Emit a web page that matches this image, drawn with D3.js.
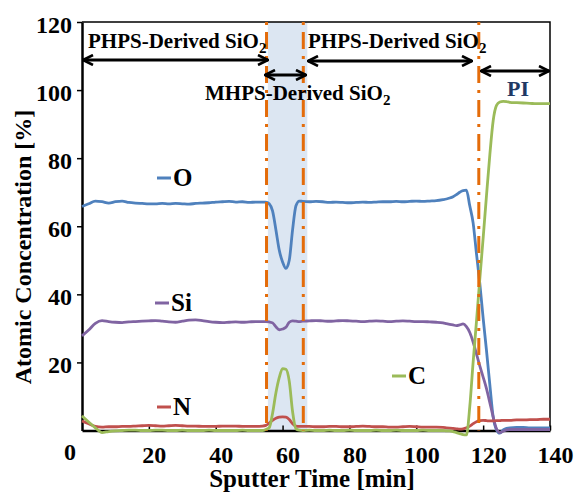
<!DOCTYPE html>
<html>
<head>
<meta charset="utf-8">
<script src="https://cdn.jsdelivr.net/npm/d3@7"></script>
</head>
<body style="margin:0;background:#fff">
<script>
// sputter time grid (min)
var time = [0,2,4,6,8,10,12,14,16,18,20,22,24,26,28,30,32,34,36,38,40,42,44,46,48,50,52,54,
  55,56,57,58,59,60,61,62,63,64,65,66,
  68,70,72,74,76,78,80,82,84,86,88,90,92,94,96,98,100,102,104,106,108,
  109,110,111,112,113,114,115,116,117,118,119,120,121,122,123,124,125,126,127,128,
  130,132,134,136,138,140];

var oxygen = [65.8,66.6,67.4,67.2,66.8,67.2,67.4,67.0,66.8,66.7,66.6,66.6,66.7,66.6,66.7,66.6,66.5,66.7,66.8,66.9,67.1,67.2,67.3,67.1,67.2,67.0,67.1,67.1,
  67.1,66.6,64.5,59,53,49.5,47.6,50,59,66,67.4,67.3,
  67.2,67.3,67.2,67.0,67.1,67.0,66.9,67.0,67.1,67.0,67.1,67.2,67.2,67.3,67.2,67.3,67.4,67.3,67.4,67.5,67.8,
  68.0,68.3,68.7,69.3,70.0,70.5,70.6,66,61,52,43.2,33,23.5,13.5,4,0.2,-0.8,0.2,0.6,0.8,
  0.9,0.9,0.8,0.8,0.8,0.8];

var silicon = [27.8,29.5,31.5,32.3,32.0,31.8,31.7,31.9,32.0,32.1,32.2,32.3,32.1,31.9,31.8,32.1,32.4,32.5,32.3,32.0,31.8,31.7,31.8,31.9,31.8,31.9,32.0,32.0,
  32.0,31.9,31.6,30.5,29.6,29.8,30.3,31.8,32.2,32.1,32.0,32.1,
  32.2,32.3,32.2,32.1,32.2,32.3,32.2,32.1,32.0,32.1,32.2,32.1,32.0,32.1,32.2,32.1,32.0,32.0,31.9,31.8,31.6,
  31.4,31.2,31.0,30.8,31.0,31.3,30.5,28.8,26,22.5,19,15.7,12.3,8.2,4,0.5,-0.6,-0.2,0.2,0.3,
  0.3,0.3,0.3,0.3,0.3,0.3];

var nitrogen = [2.8,2.0,1.2,1.0,1.1,1.1,1.2,1.2,1.3,1.4,1.5,1.4,1.3,1.4,1.5,1.4,1.3,1.3,1.2,1.2,1.2,1.3,1.3,1.3,1.2,1.2,1.2,1.3,
  1.5,2.2,3.0,3.6,3.9,4.0,3.9,3.2,2.0,1.3,1.2,1.2,
  1.2,1.1,1.1,1.2,1.2,1.1,1.1,1.2,1.3,1.2,1.1,1.1,1.0,1.0,1.1,1.2,1.1,1.0,1.0,1.0,0.9,
  0.8,0.7,0.6,0.5,0.4,0.5,0.8,1.3,2.0,2.6,2.9,3.0,2.9,2.8,2.8,2.9,2.9,3.0,3.0,3.0,
  3.1,3.1,3.2,3.2,3.3,3.3];

var carbon = [4.3,2.5,0.8,-0.6,-0.3,-0.1,0,0.1,0.1,0,0,0.1,0.1,0,0,0.1,0,0,0,0.1,0,0,0,0,0.1,0,0,0,
  0.3,0.8,5,11,15.5,18.2,18,14.5,5.5,0.5,0.1,0,
  0.1,0,0,0.1,0,0,0.1,0,0,0,0.1,0,0,0.1,0,0,0,0.1,0,0,0,
  -0.1,-0.1,-0.3,-0.6,-0.9,-1.2,-1.3,7,20,32,44.5,56.5,69,81,91,95.5,96.5,96.7,96.6,96.4,
  96.3,96.2,96.1,96.0,96.0,96.0];

var seriesNames = ["O", "Si", "N", "C"];
var seriesColors = ["#4F81BD", "#8064A2", "#C0504D", "#9BBB59"];
var xTicks = [20, 40, 60, 80, 100, 120, 140];
var yTicks = [20, 40, 60, 80, 100, 120];
var markerTimes = [55.2, 66.2, 118.7];
var mhpsBand = [55.6, 67.4];

var FONT = "'Liberation Serif'";
var W = 580, H = 493;
var svg = d3.select("body").append("svg")
    .attr("width", W)
    .attr("height", H);

var x = d3.scaleLinear().domain([0, 140]).range([82, 550]);
var y = d3.scaleLinear().domain([0, 120]).range([430.5, 22]);

function label(sel, size) {
  return sel.style("font-family", FONT).style("font-weight", "bold").style("font-size", size + "px");
}

// MHPS band
svg.append("rect")
    .attr("x", x(mhpsBand[0]))
    .attr("y", y(120))
    .attr("width", x(mhpsBand[1]) - x(mhpsBand[0]))
    .attr("height", y(0) - y(120))
    .attr("fill", "#DCE6F2");

// frame (top/right)
svg.append("path")
    .attr("d", "M" + x(0) + "," + y(120) + "H" + x(140) + "V" + y(0))
    .attr("fill", "none")
    .attr("stroke", "#000")
    .attr("stroke-width", 1.5);

// y axis
var yAxis = svg.append("g")
    .attr("transform", "translate(" + x(0) + ",0)")
    .call(d3.axisLeft(y).tickValues(yTicks).tickSize(5).tickPadding(5).tickSizeOuter(0));
yAxis.select(".domain").attr("stroke-width", 2.5);
yAxis.selectAll(".tick line").attr("stroke-width", 1.5);
label(yAxis.selectAll(".tick text"), 24).attr("dy", "0.42em");

// x axis
var xAxis = svg.append("g")
    .attr("transform", "translate(0," + y(0) + ")")
    .call(d3.axisBottom(x).tickValues(xTicks).tickSize(-5).tickPadding(15).tickSizeOuter(0));
xAxis.select(".domain").attr("stroke-width", 2.5);
xAxis.selectAll(".tick line").attr("stroke-width", 1.5);
label(xAxis.selectAll(".tick text"), 24).attr("dx", 5);

label(svg.append("text"), 24)
    .text("0")
    .attr("x", 70)
    .attr("y", 460)
    .attr("text-anchor", "middle");

// axis titles
label(svg.append("text"), 24)
    .text("Atomic Concentration [%]")
    .attr("transform", "translate(31,247) rotate(-90)")
    .attr("text-anchor", "middle");

label(svg.append("text"), 25)
    .text("Sputter Time [min]")
    .attr("x", 312)
    .attr("y", 487)
    .attr("text-anchor", "middle");

// curves
var all = [oxygen, silicon, nitrogen, carbon];
var line = d3.line()
    .x(function(d, i) { return x(time[i]); })
    .y(function(d) { return y(d); })
    .curve(d3.curveMonotoneX);

svg.selectAll("path.series")
    .data(all)
    .enter().append("path")
    .attr("class", "series")
    .attr("d", line)
    .attr("fill", "none")
    .attr("stroke", function(d, i) { return seriesColors[i]; })
    .attr("stroke-width", 2.8)
    .attr("stroke-linejoin", "round");

// dash-dot marker lines
svg.selectAll("line.mark")
    .data(markerTimes)
    .enter().append("line")
    .attr("class", "mark")
    .attr("x1", function(d) { return x(d); })
    .attr("x2", function(d) { return x(d); })
    .attr("y1", y(120))
    .attr("y2", y(0))
    .attr("stroke", "#E46C0A")
    .attr("stroke-width", 3)
    .attr("stroke-dasharray", "3,7,17,7");

// series labels
var labelPos = [[157, 178], [155, 303], [157, 407], [392, 376]];
labelPos.forEach(function(p, i) {
  svg.append("line")
      .attr("x1", p[0]).attr("x2", p[0] + 14)
      .attr("y1", p[1]).attr("y2", p[1])
      .attr("stroke", seriesColors[i])
      .attr("stroke-width", 3);
  label(svg.append("text"), 25)
      .text(seriesNames[i])
      .attr("x", p[0] + 16)
      .attr("y", p[1] + 8);
});

// arrows
var defs = svg.append("defs");
defs.append("marker")
    .attr("id", "head")
    .attr("viewBox", "0 -6 12 12")
    .attr("refX", 11)
    .attr("refY", 0)
    .attr("markerWidth", 12)
    .attr("markerHeight", 12)
    .attr("markerUnits", "userSpaceOnUse")
    .attr("orient", "auto-start-reverse")
  .append("path")
    .attr("d", "M1,-5L11,0L1,5")
    .attr("fill", "none")
    .attr("stroke", "#000")
    .attr("stroke-width", 2.6);

var arrows = [[83, 268, 60], [265, 306, 75], [308, 472, 61], [481, 549, 71]];
arrows.forEach(function(a) {
  svg.append("line")
      .attr("x1", a[0]).attr("x2", a[1])
      .attr("y1", a[2]).attr("y2", a[2])
      .attr("stroke", "#000")
      .attr("stroke-width", 3)
      .attr("marker-start", "url(#head)")
      .attr("marker-end", "url(#head)");
});

function sio2(tx, ty, txt) {
  var t = label(svg.append("text"), 21)
      .attr("x", tx).attr("y", ty);
  t.append("tspan").text(txt);
  t.append("tspan").text("2").style("font-size", "15px").attr("dy", 5);
  return t;
}
sio2(88, 48, "PHPS-Derived SiO");
sio2(205, 100, "MHPS-Derived SiO");
sio2(308, 48, "PHPS-Derived SiO");

label(svg.append("text"), 22)
    .text("PI")
    .attr("x", 518)
    .attr("y", 96)
    .attr("text-anchor", "middle")
    .attr("fill", "#1F3864");
</script>
</body>
</html>
